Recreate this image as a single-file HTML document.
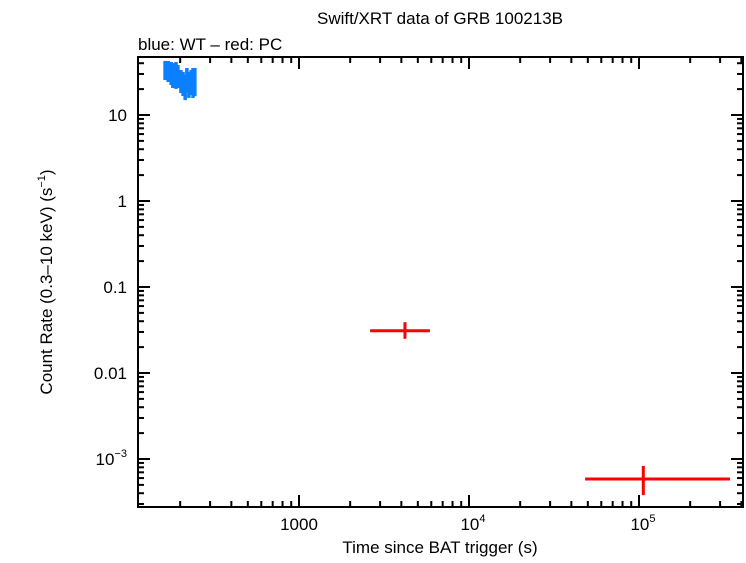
<!DOCTYPE html>
<html><head><meta charset="utf-8"><style>
body{margin:0;background:#fff;}
svg text{font-family:"Liberation Sans",sans-serif;}
</style></head><body>
<svg id="chart" width="746" height="558" xmlns="http://www.w3.org/2000/svg">
<text x="440" y="24" font-size="17" text-anchor="middle">Swift/XRT data of GRB 100213B</text>
<text x="138" y="50" font-size="17">blue: WT – red: PC</text>
<text x="440" y="553" font-size="17" text-anchor="middle">Time since BAT trigger (s)</text>
<text transform="translate(52,282) rotate(-90)" font-size="17" text-anchor="middle">Count Rate (0.3–10 keV) (s<tspan font-size="11" dy="-7">−1</tspan><tspan dy="7">)</tspan></text>
<g id="ticks"></g>
<g id="data"></g>
<rect x="138" y="57" width="605" height="450" fill="none" stroke="#000" stroke-width="2"/>
</svg>
<script>
const wtTimes=[163,170,177,181,189,194,202,208,214,219,225,232,238,244];
const wtHi=[42.5,42.5,41.3,40.2,41.3,38.1,33.3,31.6,29.2,35.2,31.6,33.3,35.2,35.2];
const wtLo=[25.5,24.2,22.3,20.6,20.1,20.6,18.0,16.6,14.9,18.5,15.8,17.1,15.8,16.6];
const pcTimes=[4200,106000];
const pcTimeLo=[2620,48200];
const pcTimeHi=[5890,343000];
const pcRates=[0.031,0.000585];
const pcRateLo=[0.025,0.00038];
const pcRateHi=[0.039,0.00083];
const yTickVals=[10,1,0.1,0.01,0.001];
const yTickLabels=["10","1","0.1","0.01","10^-3"];
const xTickVals=[1000,10000,100000];
const xTickLabels=["1000","10^4","10^5"];
const X=v=>299+(Math.log10(v)-3)*170;
const Y=v=>115-(Math.log10(v)-1)*86;
const NS="http://www.w3.org/2000/svg";
function mk(tag,attrs,parent){const e=document.createElementNS(NS,tag);for(const k in attrs)e.setAttribute(k,attrs[k]);parent.appendChild(e);return e;}
const tg=document.getElementById('ticks'),dg=document.getElementById('data');
for(let d=2;d<=5;d++){for(let m=1;m<10;m++){const v=m*Math.pow(10,d);const x=X(v);if(x<139||x>742)continue;const L=m==1?12:6;
const t=mk('line',{x1:x,x2:x,y1:507,y2:507-L,stroke:'#000','stroke-width':2},tg);


const t2=mk('line',{x1:x,x2:x,y1:57,y2:57+L,stroke:'#000','stroke-width':2},tg);

}}
for(let d=-4;d<=1;d++){for(let m=1;m<10;m++){const v=m*Math.pow(10,d);const y=Y(v);if(y<58||y>506)continue;const L=m==1?12:6;
const t=mk('line',{x1:138,x2:138+L,y1:y,y2:y,stroke:'#000','stroke-width':2},tg);


const t2=mk('line',{x1:743,x2:743-L,y1:y,y2:y,stroke:'#000','stroke-width':2},tg);

}}
function label(txt,x,y,anchor,parent){const t=mk('text',{x:x,y:y,'font-size':17,'text-anchor':anchor},parent);
if(txt.includes('^')){const [b,e]=txt.split('^');t.appendChild(document.createTextNode(b));const s=mk('tspan',{'font-size':11,dy:-8},t);s.textContent=e.replace('-','−');}else t.textContent=txt;return t;}
yTickVals.forEach((v,i)=>{const t=label(yTickLabels[i],127,Y(v)+6,'end',tg);

});
xTickVals.forEach((v,i)=>{const t=label(xTickLabels[i],X(v)+(i?4:0),530,'middle',tg);

});
wtTimes.forEach((t,i)=>{const x=X(t);
const l=mk('line',{x1:x,x2:x,y1:Y(wtHi[i]),y2:Y(wtLo[i]),stroke:'#0a7fff','stroke-width':3.5},dg);

});
pcTimes.forEach((t,i)=>{
const h=mk('line',{x1:X(pcTimeLo[i]),x2:X(pcTimeHi[i]),y1:Y(pcRates[i]),y2:Y(pcRates[i]),stroke:'#f00','stroke-width':3},dg);


const v=mk('line',{x1:X(t),x2:X(t),y1:Y(pcRateHi[i]),y2:Y(pcRateLo[i]),stroke:'#f00','stroke-width':3},dg);

});
</script>
</body></html>
